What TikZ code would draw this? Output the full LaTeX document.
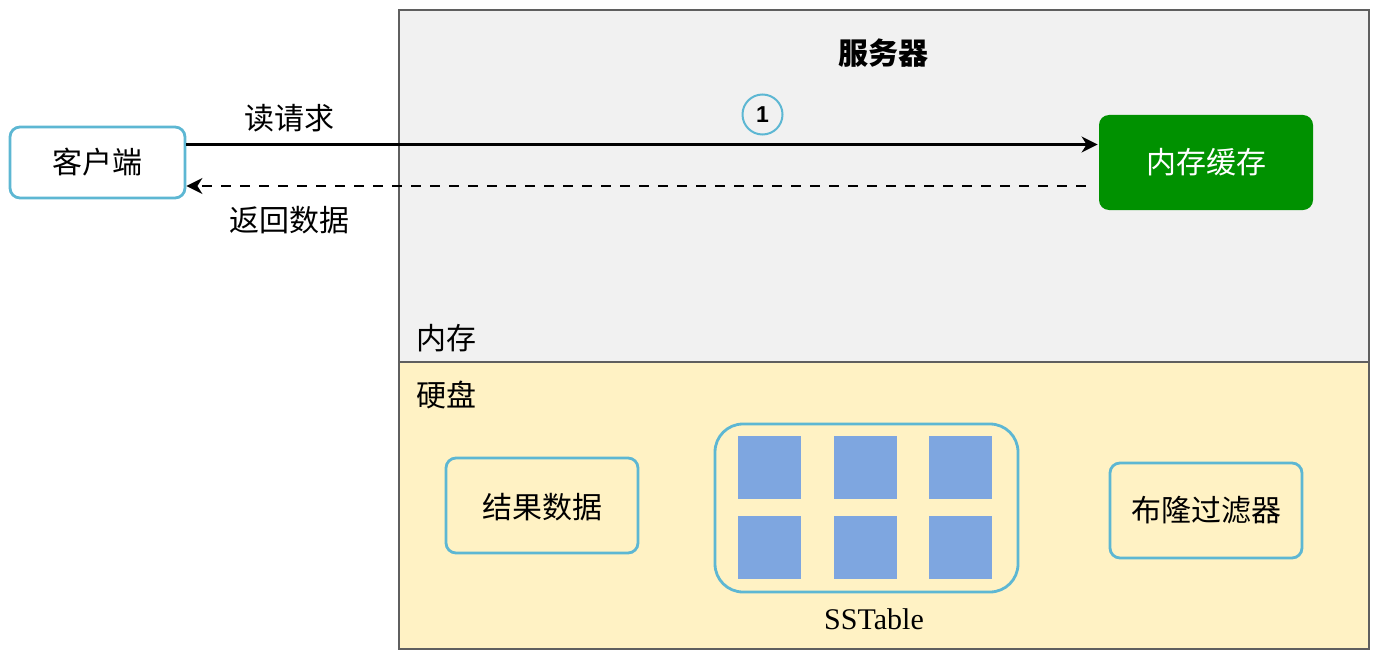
\documentclass[tikz,border=0pt]{standalone}
\usepackage{fontspec}
\setmainfont{Liberation Serif}
\setsansfont{Liberation Sans}
\newfontfamily\cjk{Noto Sans CJK SC}
\usetikzlibrary{arrows.meta,positioning}
\definecolor{memgray}{HTML}{F1F1F1}
\definecolor{diskyellow}{HTML}{FFF2C4}
\definecolor{edgeblue}{HTML}{5DB7D3}
\definecolor{cachegreen}{HTML}{009100}
\definecolor{blockblue}{HTML}{7EA6E0}
\definecolor{framegray}{HTML}{5F5F5F}
\tikzset{
  box/.style = {draw=edgeblue, line width=1.4pt, rounded corners=5pt, align=center, font=\cjk\fontsize{15}{18}\selectfont},
  lbl/.style = {font=\cjk\fontsize{15}{18}\selectfont, inner sep=0pt},
  block/.style = {fill=blockblue, minimum size=31.5pt, inner sep=0pt},
  req/.style = {line width=1.2pt, -{Stealth[length=8pt,width=8pt,inset=2.5pt]}},
}

\begin{document}
\begin{tikzpicture}[x=0.5pt, y=-0.5pt]
        \useasboundingbox (0,0) rectangle (1375,658);
        % server: memory and disk
        \path[draw=framegray, line width=0.8pt, fill=memgray] (399,10) rectangle (1369,362);
        \path[draw=framegray, line width=0.8pt, fill=diskyellow] (399,362) rectangle (1369,649);
        \node[lbl, font=\cjk\bfseries\fontsize{15}{18}\selectfont] (server) at (883,53) {服务器};
        \node[lbl, anchor=west] (mem) at (416,338) {内存};
        \node[lbl, anchor=west] (disk) at (416,395) {硬盘};
        % client and cache
        \node[box, fill=white, minimum width=87.5pt, minimum height=35.5pt] (client) at (97.5,162.5) {客户端};
        \node[box, draw=none, fill=cachegreen, text=white, minimum width=107pt, minimum height=47.5pt] (cache) at (1206,162.5) {内存缓存};
        % read request
        \path[draw, req] ([yshift=9pt]client.east) to ([yshift=9pt]cache.west);
        \node[lbl] (readlbl) at (289,118) {读请求};
        \node[draw=edgeblue, line width=1pt, circle, minimum size=20pt, inner sep=0pt, font=\sffamily\bfseries\fontsize{11.5}{11.5}\selectfont] (badge) at (762.5,114.5) {1};
        % returned data
        \path[draw, req, dash pattern=on 5pt off 4.5pt] ([xshift=-6pt,yshift=-11.75pt]cache.west) to ([yshift=-11.75pt]client.east);
        \node[lbl] (backlbl) at (289,220) {返回数据};
        % disk contents
        \node[box, minimum width=96pt, minimum height=47.5pt, text depth=-3pt] (result) at (542,505.5) {结果数据};
        \node[box, minimum width=96pt, minimum height=47.5pt] (bloom) at (1206,510.5) {布隆过滤器};
        \node[box, minimum width=151.5pt, minimum height=84pt, rounded corners=14pt] (sstable) at (866.5,508) {};
        \foreach \c/\x in {1/769.5, 2/865, 3/960}
          \foreach \r/\y in {1/467.5, 2/547.5}
            \node[block] (blk\c\r) at (\x,\y) {};
        \node[font=\fontsize{15}{18}\selectfont, inner sep=0pt] (sslabel) at (874,619) {SSTable};
\end{tikzpicture}
\end{document}
